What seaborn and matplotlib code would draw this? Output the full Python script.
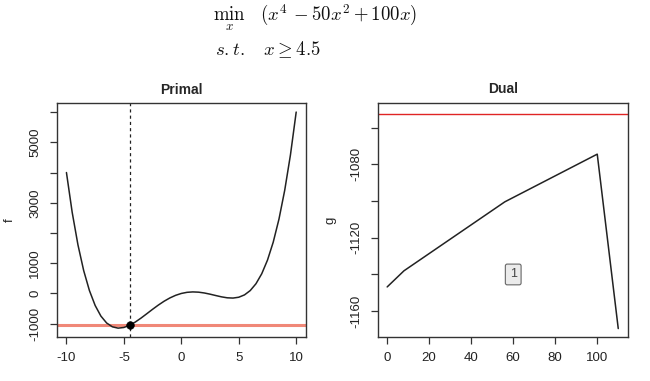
import numpy as np
import pandas as pd
import matplotlib
matplotlib.use("Agg")
import matplotlib.pyplot as plt
import seaborn as sns

# ---- data ----
primal_x = [-10, -9.5, -9, -8.5, -8, -7.5, -7, -6.5, -6, -5.5, -5, -4.5, -4, -3.5, -3,
            -2.5, -2, -1.5, -1, -0.5, 0, 0.5, 1, 1.5, 2, 2.5, 3, 3.5, 4, 4.5, 5,
            5.5, 6, 6.5, 7, 7.5, 8, 8.5, 9, 9.5, 10]
primal_f = [4000, 2682.6, 1611, 757.6, 96, -398.4, -749, -977.4, -1104, -1147.4, -1125,
            -1052.4, -944, -812.4, -669, -523.4, -384, -257.4, -149, -62.4, 0, 37.6,
            51, 42.6, 16, -23.4, -69, -112.4, -144, -152.4, -125, -47.4, 96, 322.6,
            651, 1101.6, 1696, 2457.6, 3411, 4582.6, 6000]
x_opt = -4.5
f_opt = -1052.4

dual_iter = [0, 8, 56, 100, 110]
dual_g = [-1146.8, -1138.0, -1100.4, -1074.4, -1169.5]
dual_label_pos = (60, -1140)
dual_label = "1"

primal_xticks = [-10, -5, 0, 5, 10]
primal_yticks = [-1000, 0, 1000, 2000, 3000, 4000, 5000, 6000]
primal_yticklabels = ["-1000", "0", "1000", "", "3000", "", "5000", ""]
dual_xticks = [0, 20, 40, 60, 80, 100]
dual_yticks = [-1160, -1140, -1120, -1100, -1080, -1060]
dual_yticklabels = ["-1160", "", "-1120", "", "-1080", ""]

# ---- style ----
sns.set_theme(style="ticks")
plt.rcParams["font.family"] = ["Liberation Sans", "DejaVu Sans"]
plt.rcParams["mathtext.fontset"] = "cm"
plt.rcParams["axes.unicode_minus"] = False

fig = plt.figure(figsize=(6.5, 3.81), dpi=100)
ax1 = fig.add_axes([0.0872, 0.1163, 0.3835, 0.6126])
ax2 = fig.add_axes([0.5811, 0.1150, 0.3846, 0.6142])

dfp = pd.DataFrame({"x": primal_x, "f": primal_f})
dfd = pd.DataFrame({"iter": dual_iter, "g": dual_g})

# Primal
ax1.axhline(f_opt, color="#f08878", lw=2.2, zorder=1)
sns.lineplot(data=dfp, x="x", y="f", ax=ax1, color="#222222", lw=1.1, zorder=2)
ax1.axvline(x_opt, color="#222222", lw=0.9, ls=(0, (2.5, 2.5)), zorder=2)
sns.scatterplot(x=[x_opt], y=[f_opt], ax=ax1, color="black", s=30, zorder=3,
                edgecolor="black", linewidth=0.5)
ax1.set_xlim(-10.85, 10.85)
ax1.set_ylim(-1430, 6290)
ax1.set_xticks(primal_xticks)
ax1.set_xticklabels([str(v) for v in primal_xticks])
ax1.set_yticks(primal_yticks)
ax1.set_yticklabels(primal_yticklabels)
ax1.set_title("Primal", fontsize=10, fontweight="bold", pad=7)
ax1.set_xlabel("")
ax1.set_ylabel("f", fontsize=9.5, labelpad=10)

# Dual
ax2.axhline(f_opt, color="#e02424", lw=1.0, zorder=1)
sns.lineplot(data=dfd, x="iter", y="g", ax=ax2, color="#222222", lw=1.1, zorder=2)
ax2.text(dual_label_pos[0], dual_label_pos[1], dual_label, ha="center", va="center",
         fontsize=9, color="#444444",
         bbox=dict(boxstyle="round,pad=0.35,rounding_size=0.15", fc="#ebebeb", ec="#666666", lw=0.8))
ax2.set_xlim(-4.5, 114.5)
ax2.set_ylim(-1174.2, -1046.6)
ax2.set_xticks(dual_xticks)
ax2.set_yticks(dual_yticks)
ax2.set_yticklabels(dual_yticklabels)
ax2.set_title("Dual", fontsize=10, fontweight="bold", pad=7)
ax2.set_xlabel("")
ax2.set_ylabel("g", fontsize=9.5, labelpad=10)

for ax in (ax1, ax2):
    for sp in ax.spines.values():
        sp.set_visible(True)
        sp.set_color("#333333")
        sp.set_linewidth(1.0)
    ax.tick_params(axis="both", direction="out", length=5, width=0.9, color="#333333",
                   labelsize=9.5, labelcolor="#222222", pad=6)
    ax.tick_params(axis="y", labelrotation=90)
    for lab in ax.get_yticklabels():
        lab.set_va("center")
    ax.grid(False)

# Header math text
fig.text(213 / 650, 1 - 18 / 381, r"$\min_{x}\ \ \ (x^4 - 50x^2 + 100x)$",
         fontsize=13.5, ha="left", va="center", color="#111111")
fig.text(215 / 650, 1 - 50 / 381, r"$s.t.\ \ \ x \geq 4.5$",
         fontsize=13.5, ha="left", va="center", color="#111111")

fig.savefig("out.png", dpi=100)
